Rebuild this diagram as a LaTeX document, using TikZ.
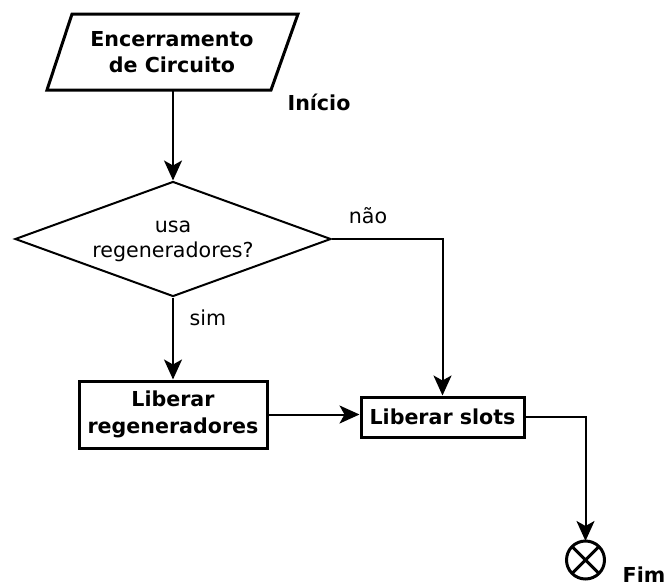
\documentclass[tikz,border=0pt]{standalone}
\usepackage{fontspec}
\setmainfont{DejaVu Sans}
\usetikzlibrary{shapes.geometric,arrows.meta}
\begin{document}
\begin{tikzpicture}[x=1pt,y=-1pt,
  conn/.style={line width=2pt,-{Stealth[length=20pt,width=18pt,inset=5pt]}},
  procbox/.style={draw,line width=3pt,align=center,inner sep=0pt,
    font=\fontsize{20.6}{26.5}\selectfont\bfseries},
  boldlbl/.style={inner sep=0pt,font=\fontsize{20.6}{26.5}\selectfont\bfseries},
  lbl/.style={inner sep=0pt,font=\fontsize{20.6}{26.5}\selectfont},
]
\useasboundingbox (0,0) rectangle (667,587);
% start (parallelogram)
\draw[line width=3pt,line join=miter] (72,14) -- (298,14) -- (271,90) -- (47,90) -- cycle;
\node[boldlbl,align=center] (start) at (172,52) {Encerramento\\de Circuito};
\coordinate (startb) at (173,90);
\node[boldlbl,anchor=base] (inicio) at (319,110) {Início};
% decision
\node[draw,diamond,line width=2pt,minimum width=316pt,minimum height=115pt,
  aspect=2.75,inner sep=0pt] (dec) at (173,239) {};
\node[lbl,align=center,font=\fontsize{20.6}{25}\selectfont] (dectext) at (173,241) {usa\\regeneradores?};
% boxes
\node[procbox,minimum width=188pt,minimum height=67pt] (regen) at (173,414.5) {Liberar\\regeneradores};
\node[procbox,minimum width=163pt,minimum height=40pt] (slots) at (442.5,417) {Liberar slots};
% end
\node[draw,circle,line width=3pt,minimum size=38pt,inner sep=0pt,outer sep=0pt] (fim) at (585.5,560) {};
\draw[line width=3pt] (fim.45) -- (fim.225) (fim.135) -- (fim.-45);
\node[boldlbl,anchor=base] (fimlbl) at (644,582) {Fim};
% labels
\node[lbl,anchor=base] (nao) at (368,223) {não};
\node[lbl,anchor=base] (sim) at (208,325) {sim};
% connectors
\draw[conn] (startb) -- (dec.north);
\draw[conn] (dec.east) -| (slots.north);
\draw[conn] (dec.south) -- (regen.north);
\draw[conn] (regen.east) -- (regen.east -| slots.west);
\draw[conn] (slots.east) -| (fim.north);
\end{tikzpicture}
\end{document}
